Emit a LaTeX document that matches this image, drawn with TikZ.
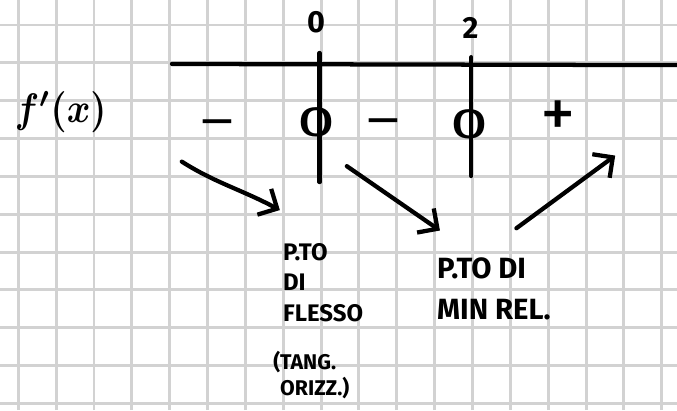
\documentclass[tikz,border=0pt]{standalone}
\usepackage{fontspec}
\setmainfont{Fira Sans}
\usetikzlibrary{arrows.meta}
\tikzset{
  gridline/.style={gray!35, line width=2.2pt},
  ink/.style={line width=3.2pt, line cap=round, line join=round},
  hand/.style={ink, -{Straight Barb[length=11pt,width=22pt]}},
  sgn/.style={font=\fontsize{38}{38}\selectfont, inner sep=0pt},
  zero/.style={font=\fontsize{32}{32}\selectfont, inner sep=0pt},
  lbl/.style={font=\fontsize{23}{23}\selectfont\bfseries, inner sep=0pt},
  note/.style={font=\fontsize{18}{23}\selectfont\bfseries, align=left, inner sep=0pt, anchor=north west},
}

\begin{document}
\begin{tikzpicture}
   \useasboundingbox (-0.483,-10.172) rectangle (17.403,0.660);
   \fill[white] (-0.483,-10.172) rectangle (17.403,0.660);
   % squared paper
   \draw[gridline] (-0.483,-10.172) grid (17.403,0.660);

   % sign chart of f'
   \node[inner sep=0pt] (fx) at (1.12,-2.30) {\scalebox{2.7}[3.1]{\boldmath$f'(x)$}};
   \node[lbl] (t0) at (7.87,0.07) {0};
   \node[lbl] (t2) at (11.95,-0.09) {2};

   \draw[ink] (4.06,-1.03) -- (17.403,-1.06);
   \draw[ink] (7.96,-0.74) -- (7.96,-4.15);
   \draw[ink] (11.97,-0.85) -- (11.97,-3.99);

   \node[sgn] (m1) at (5.27,-2.74) {\scalebox{1.5}[1]{−}};
   \node[zero] (z1) at (7.88,-2.58) {\scalebox{1.6}[1]{0}};
   \node[sgn] (m2) at (9.65,-2.72) {\scalebox{1.5}[1]{−}};
   \node[zero] (z2) at (11.93,-2.63) {\scalebox{1.6}[1]{0}};
   \node[sgn] (p1) at (14.26,-2.50) {\scalebox{1.4}{+}};

   % what the zeros are
   \node[note] (fless) at (6.99,-5.76) {P.TO\\DI\\FLESSO};
   \node[note, font=\fontsize{16}{20}\selectfont\bfseries] (tang) at (6.73,-8.60) {(TANG.\\\hphantom{(}ORIZZ.)};
   \node[note, font=\fontsize{22}{31}\selectfont\bfseries] (minrel) at (11.06,-6.13) {P.TO DI\\MIN REL.};

   \coordinate (a1s) at (4.32,-3.61);
   \coordinate (a1e) at (6.91,-4.89);
   \coordinate (a2s) at (8.68,-3.73);
   \coordinate (a2e) at (11.14,-5.43);
   \coordinate (a3s) at (13.16,-5.37);
   \coordinate (a3e) at (15.77,-3.45);

   \draw[hand] (a1s) .. controls (5.2,-4.17) and (5.9,-4.35) .. (a1e);
   \draw[hand] (a2s) -- (a2e);
   \draw[hand] (a3s) -- (a3e);
\end{tikzpicture}
\end{document}
